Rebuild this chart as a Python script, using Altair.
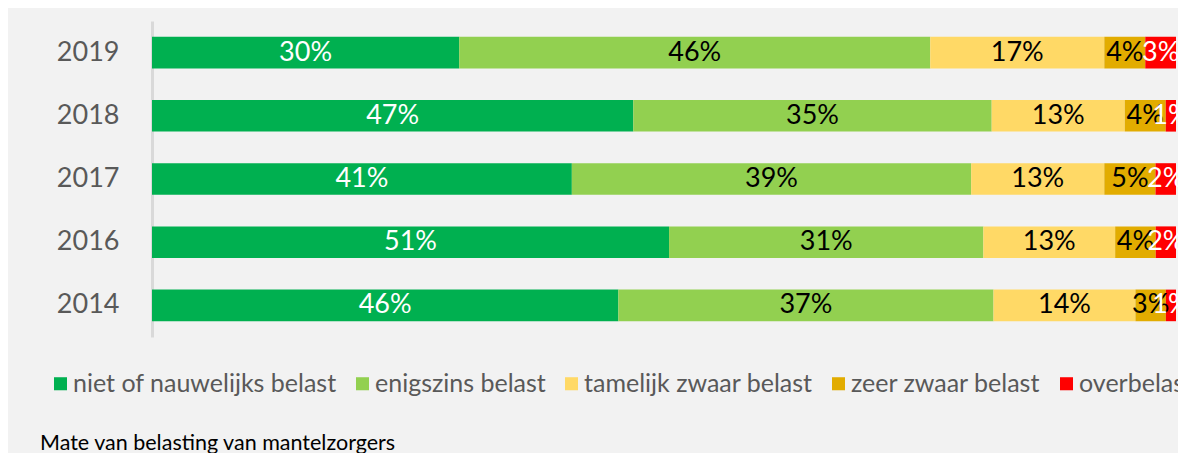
import altair as alt
import pandas as pd

years = ["2019", "2018", "2017", "2016", "2014"]
categories = ["niet of nauwelijks belast", "enigszins belast", "tamelijk zwaar belast",
              "zeer zwaar belast", "overbelast"]
colors = ["#00b050", "#92d050", "#ffd966", "#e2ac00", "#ff0000"]

niet = [30, 47, 41, 51, 46]
enigszins = [46, 35, 39, 31, 37]
tamelijk = [17, 13, 13, 13, 14]
zeer = [4, 4, 5, 4, 3]
over = [3, 1, 2, 2, 1]

series = [niet, enigszins, tamelijk, zeer, over]
rows = []
for ci, (cat, vals) in enumerate(zip(categories, series)):
    for y, v in zip(years, vals):
        rows.append({"year": y, "cat": cat, "order": ci, "value": v})
df = pd.DataFrame(rows)

FONT = "Lato"

base = alt.Chart(df).transform_stack(
    stack="value", groupby=["year"], as_=["v0", "v1"],
    sort=[alt.SortField("order", order="ascending")], offset="normalize"
)

yenc = alt.Y("year:N", sort=years, title=None,
             scale=alt.Scale(paddingInner=0.5, paddingOuter=0.25),
             axis=alt.Axis(labelFontSize=27, labelColor="#595959", labelFont=FONT,
                           labelPadding=33, ticks=False, domainColor="#d9d9d9",
                           domainWidth=3, grid=False))

bars = base.mark_bar().encode(
    x=alt.X("v0:Q", axis=None, scale=alt.Scale(domain=[0, 1], nice=False)),
    x2="v1:Q",
    y=yenc,
    color=alt.Color("cat:N", sort=categories,
                    scale=alt.Scale(domain=categories, range=colors),
                    legend=alt.Legend(title=None, orient="none", direction="horizontal",
                                      legendX=-104, legendY=350,
                                      symbolType="square", symbolSize=170,
                                      symbolStrokeWidth=0,
                                      labelFontSize=25, labelFont=FONT,
                                      labelColor="#595959", labelOffset=0,
                                      columnPadding=13, labelLimit=400)),
)

labels = base.transform_calculate(
    mid="(datum.v0 + datum.v1) / 2",
    lab="datum.value + '%'"
).mark_text(fontSize=27, font=FONT, baseline="middle", align="center").encode(
    x=alt.X("mid:Q", scale=alt.Scale(domain=[0, 1], nice=False)),
    y=alt.Y("year:N", sort=years),
    text="lab:N",
    color=alt.condition("datum.order == 0 || datum.order == 4",
                        alt.value("white"), alt.value("black")),
)

chart = alt.layer(bars, labels).properties(
    width=1024, height=316,
    autosize=alt.AutoSizeParams(type="none"),
    padding={"left": 144, "top": 13, "right": 2, "bottom": 116},
    title=alt.Title("Mate van belasting van mantelzorgers", orient="bottom",
                    anchor="start", fontSize=21.5, font=FONT, color="#000000",
                    fontWeight="normal", dx=-8, offset=36),
).configure(background="#f2f2f2").configure_view(stroke=None)

chart.save("out.html", embed_options={"renderer": "svg", "actions": False})
